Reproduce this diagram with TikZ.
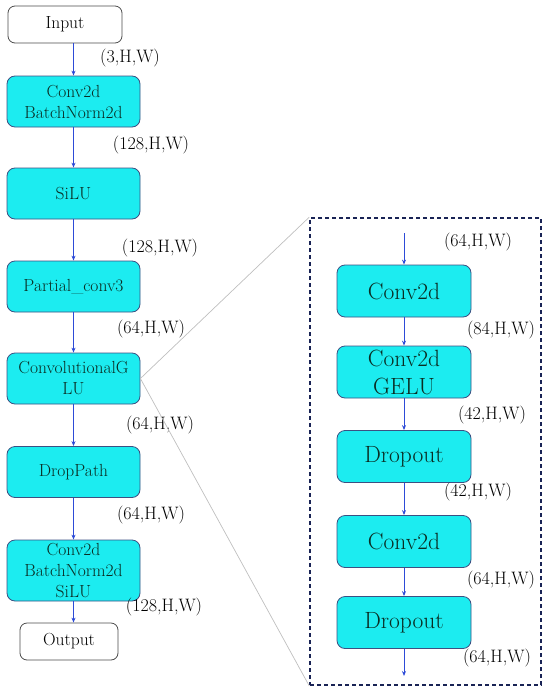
\documentclass[tikz,border=0pt]{standalone}
\usetikzlibrary{arrows.meta}
\definecolor{boxfill}{RGB}{28,236,240}
\definecolor{boxline}{RGB}{60,80,130}
\definecolor{boxtext}{RGB}{10,45,35}
\definecolor{arrowc}{RGB}{45,75,215}
\definecolor{navy}{RGB}{25,35,85}
\tikzset{
  stage/.style={draw=boxline, line width=0.8pt, fill=boxfill, rounded corners=8pt,
    minimum width=133pt, minimum height=51pt, inner sep=0pt, align=center,
    text=boxtext, font=\fontsize{17.5}{21}\selectfont},
  bigstage/.style={stage, minimum width=134pt, minimum height=52pt,
    font=\fontsize{23.5}{28}\selectfont},
  io/.style={draw=black!70, line width=0.8pt, fill=white, rounded corners=7pt,
    minimum height=37pt, inner sep=0pt, font=\fontsize{17.5}{21}\selectfont},
  dim/.style={font=\fontsize{18}{21}\selectfont, inner sep=0pt},
  flow/.style={draw=arrowc, line width=1pt, -{Stealth[length=5pt,width=4pt]}},
  zoomline/.style={draw=black!25, line width=0.7pt},
}
\begin{document}
\begin{tikzpicture}[x=1pt,y=-1pt]
\useasboundingbox (0,0) rectangle (550,693);
% left column
\node[io, minimum width=114pt] (in) at (65,24.5) {Input};
\node[stage] (c1) at (73.5,101.5) {Conv2d\\BatchNorm2d};
\node[stage] (silu) at (73.5,193.5) {SiLU};
\node[stage] (pc) at (73.5,286.5) {Partial\_conv3};
\node[stage] (glu) at (73.5,378.5) {ConvolutionalG\\LU};
\node[stage] (dp) at (73.5,472) {DropPath};
\node[stage, minimum height=61pt] (c2) at (73.5,570.5) {Conv2d\\BatchNorm2d\\SiLU};
\node[io, minimum width=98pt] (out) at (69,641.5) {Output};
\draw[flow] (in.south -| c1.north) -- (c1.north);
\draw[flow] (c1) -- (silu);
\draw[flow] (silu) -- (pc);
\draw[flow] (pc) -- (glu);
\draw[flow] (glu) -- (dp);
\draw[flow] (dp) -- (c2);
\draw[flow] (c2.south) -- (c2.south |- out.north);
\node[dim] (l1) at (130,58) {(3,H,W)};
\node[dim] (l2) at (151,145) {(128,H,W)};
\node[dim] (l3) at (160,248) {(128,H,W)};
\node[dim] (l4) at (151,329) {(64,H,W)};
\node[dim] (l5) at (160,425) {(64,H,W)};
\node[dim] (l6) at (151,515) {(64,H,W)};
\node[dim] (l7) at (164,607) {(128,H,W)};
% zoom box
\node[draw=navy, line width=1.6pt, dash pattern=on 4pt off 3pt, minimum width=231pt,
  minimum height=467pt, inner sep=0pt] (zoom) at (425.5,451.5) {};
\draw[zoomline] (glu.east) -- (zoom.north west);
\draw[zoomline] (glu.east) -- (zoom.south west);
% right column
\coordinate (rs) at (404,233);
\coordinate (re) at (404,676);
\node[bigstage] (r1) at (404,291) {Conv2d};
\node[bigstage] (r2) at (404,372) {Conv2d\\GELU};
\node[bigstage] (r3) at (404,456.5) {Dropout};
\node[bigstage] (r4) at (404,541.5) {Conv2d};
\node[bigstage] (r5) at (404,622.5) {Dropout};
\draw[flow] (rs) -- (r1);
\draw[flow] (r1) -- (r2);
\draw[flow] (r2) -- (r3);
\draw[flow] (r3) -- (r4);
\draw[flow] (r4) -- (r5);
\draw[flow] (r5) -- (re);
\node[dim] (m1) at (478,242) {(64,H,W)};
\node[dim] (m2) at (501,330) {(84,H,W)};
\node[dim] (m3) at (492,415) {(42,H,W)};
\node[dim] (m4) at (478,492) {(42,H,W)};
\node[dim] (m5) at (501,580) {(64,H,W)};
\node[dim] (m6) at (497,658) {(64,H,W)};
\end{tikzpicture}
\end{document}
